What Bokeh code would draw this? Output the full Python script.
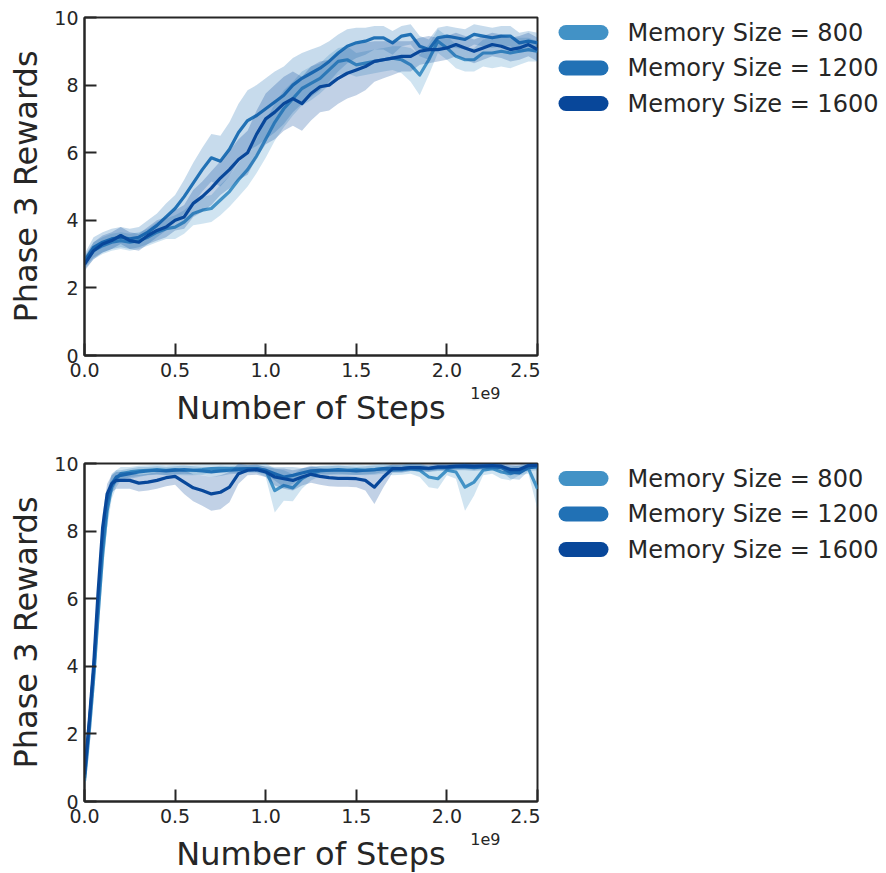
from bokeh.plotting import figure
from bokeh.models import Title, FixedTicker, PrintfTickFormatter, Range1d
from bokeh.core.properties import value
from bokeh.layouts import column, row
from bokeh.embed import file_html
from bokeh.resources import INLINE

series_names = ["Memory Size = 800", "Memory Size = 1200", "Memory Size = 1600"]
colors = ["#4292c6", "#2171b5", "#08479a"]
x_tick_values = [0.0, 0.5, 1.0, 1.5, 2.0, 2.5]
y_tick_values = [0, 2, 4, 6, 8, 10]
x_label = "Number of Steps"
y_label = "Phase 3 Rewards"
x_scale_note = "1e9"

# ---------- top panel (x in units of 1e9 steps) ----------
x_top = [0.00, 0.05, 0.10, 0.15, 0.20, 0.25, 0.30, 0.35, 0.40, 0.45,
         0.50, 0.55, 0.60, 0.65, 0.70, 0.75, 0.80, 0.85, 0.90, 0.95,
         1.00, 1.05, 1.10, 1.15, 1.20, 1.25, 1.30, 1.35, 1.40, 1.45,
         1.50, 1.55, 1.60, 1.65, 1.70, 1.75, 1.80, 1.85, 1.90, 1.95,
         2.00, 2.05, 2.10, 2.15, 2.20, 2.25, 2.30, 2.35, 2.40, 2.45,
         2.50]
m800_top = [2.75, 3.1, 3.25, 3.35, 3.4, 3.35, 3.4, 3.5, 3.65, 3.75,
            3.8, 3.95, 4.2, 4.3, 4.35, 4.6, 4.85, 5.2, 5.5, 5.9,
            6.4, 6.9, 7.3, 7.6, 7.9, 8.05, 8.2, 8.45, 8.7, 8.75,
            8.6, 8.65, 8.7, 8.75, 8.8, 8.75, 8.6, 8.3, 8.75, 9.3,
            9.1, 8.85, 8.75, 8.75, 8.95, 8.95, 9.0, 8.95, 9.0, 9.05,
            9.0]
m1200_top = [2.8, 3.2, 3.35, 3.45, 3.5, 3.45, 3.5, 3.65, 3.85, 4.1,
             4.35, 4.7, 5.1, 5.5, 5.85, 5.75, 6.1, 6.6, 6.95, 7.1,
             7.3, 7.5, 7.7, 8.0, 8.2, 8.35, 8.5, 8.7, 8.95, 9.15,
             9.25, 9.3, 9.4, 9.4, 9.25, 9.45, 9.5, 9.15, 9.05, 9.4,
             9.45, 9.4, 9.35, 9.5, 9.45, 9.4, 9.45, 9.45, 9.25, 9.3,
             9.25]
m1600_top = [2.7, 3.1, 3.3, 3.4, 3.55, 3.4, 3.35, 3.55, 3.7, 3.8,
             4.0, 4.1, 4.5, 4.7, 4.95, 5.25, 5.5, 5.8, 6.0, 6.55,
             7.0, 7.2, 7.45, 7.6, 7.45, 7.75, 7.95, 8.0, 8.2, 8.35,
             8.45, 8.55, 8.7, 8.75, 8.8, 8.85, 8.85, 9.0, 9.05, 9.05,
             9.1, 9.2, 9.1, 9.0, 9.1, 9.2, 9.15, 9.05, 9.1, 9.2,
             9.05]
s800_top = [0.2, 0.25, 0.25, 0.25, 0.25, 0.25, 0.25, 0.25, 0.3, 0.3,
            0.35, 0.35, 0.35, 0.4, 0.4, 0.45, 0.45, 0.5, 0.5, 0.5,
            0.55, 0.55, 0.55, 0.5, 0.5, 0.5, 0.45, 0.45, 0.4, 0.4,
            0.35, 0.35, 0.35, 0.35, 0.35, 0.4, 0.5, 0.6, 0.45, 0.35,
            0.35, 0.35, 0.35, 0.35, 0.4, 0.45, 0.45, 0.45, 0.4, 0.35,
            0.3]
s1200_top = [0.2, 0.3, 0.3, 0.3, 0.3, 0.3, 0.3, 0.35, 0.35, 0.4,
             0.4, 0.5, 0.6, 0.65, 0.7, 0.75, 0.8, 0.85, 0.9, 0.9,
             0.9, 0.9, 0.85, 0.8, 0.75, 0.7, 0.65, 0.6, 0.55, 0.5,
             0.45, 0.4, 0.35, 0.35, 0.35, 0.3, 0.3, 0.3, 0.3, 0.3,
             0.3, 0.3, 0.3, 0.3, 0.3, 0.3, 0.3, 0.3, 0.3, 0.3,
             0.3]
s1600_top = [0.2, 0.25, 0.25, 0.25, 0.25, 0.25, 0.25, 0.25, 0.3, 0.3,
             0.3, 0.35, 0.4, 0.45, 0.5, 0.5, 0.55, 0.6, 0.65, 0.7,
             0.75, 0.8, 0.8, 0.8, 0.8, 0.8, 0.75, 0.75, 0.75, 0.75,
             0.75, 0.7, 0.6, 0.55, 0.5, 0.45, 0.45, 0.4, 0.4, 0.35,
             0.35, 0.35, 0.35, 0.35, 0.35, 0.35, 0.35, 0.35, 0.35, 0.35,
             0.35]

# ---------- bottom panel ----------
x_bot = [0.0, 0.025, 0.05, 0.075, 0.10, 0.125, 0.15, 0.175, 0.20,
         0.25, 0.30, 0.35, 0.40, 0.45, 0.50,
         0.55, 0.60, 0.65, 0.70, 0.75, 0.80, 0.85, 0.90, 0.95, 1.00,
         1.05, 1.10, 1.15, 1.20, 1.25, 1.30, 1.35, 1.40, 1.45, 1.50,
         1.55, 1.60, 1.65, 1.70, 1.75, 1.80, 1.85, 1.90, 1.95, 2.00,
         2.05, 2.10, 2.15, 2.20, 2.25, 2.30, 2.35, 2.40, 2.45, 2.50]
m800_bot = [0.6, 2.0, 3.6, 5.5, 7.3, 8.6, 9.3, 9.55, 9.7,
            9.75, 9.78, 9.8, 9.82, 9.8, 9.82,
            9.8, 9.8, 9.82, 9.85, 9.85, 9.85, 9.85, 9.85, 9.85, 9.8,
            9.2, 9.35, 9.28, 9.55, 9.7, 9.78, 9.8, 9.8, 9.8, 9.82,
            9.8, 9.82, 9.85, 9.8, 9.82, 9.85, 9.8, 9.6, 9.55, 9.8,
            9.75, 9.3, 9.45, 9.8, 9.85, 9.75, 9.7, 9.8, 9.85, 9.25]
m1200_bot = [0.7, 2.2, 3.8, 5.8, 7.6, 8.8, 9.4, 9.6, 9.65,
             9.7, 9.75, 9.78, 9.8, 9.78, 9.8,
             9.82, 9.8, 9.78, 9.75, 9.78, 9.8, 9.82, 9.85, 9.85, 9.8,
             9.7, 9.6, 9.65, 9.72, 9.78, 9.8, 9.8, 9.82, 9.8, 9.78,
             9.8, 9.82, 9.85, 9.86, 9.85, 9.88, 9.86, 9.85, 9.88, 9.88,
             9.9, 9.9, 9.88, 9.9, 9.9, 9.88, 9.75, 9.72, 9.88, 9.9]
m1600_bot = [0.8, 2.3, 4.0, 6.2, 8.1, 9.1, 9.4, 9.5, 9.5,
             9.5, 9.42, 9.45, 9.5, 9.58, 9.62,
             9.45, 9.28, 9.2, 9.1, 9.15, 9.3, 9.7, 9.8, 9.82, 9.75,
             9.6, 9.55, 9.5, 9.6, 9.68, 9.62, 9.58, 9.56, 9.56, 9.55,
             9.5, 9.3, 9.6, 9.85, 9.85, 9.88, 9.88, 9.86, 9.9, 9.9,
             9.92, 9.93, 9.92, 9.93, 9.94, 9.92, 9.82, 9.82, 9.94, 9.95]
s800_bot = [0.4, 0.6, 0.6, 0.6, 0.6, 0.5, 0.35, 0.25, 0.2,
            0.15, 0.15, 0.15, 0.15, 0.15, 0.15,
            0.15, 0.15, 0.15, 0.12, 0.12, 0.12, 0.12, 0.12, 0.12, 0.2,
            0.65, 0.45, 0.4, 0.3, 0.2, 0.15, 0.15, 0.15, 0.15, 0.15,
            0.15, 0.15, 0.15, 0.15, 0.15, 0.15, 0.2, 0.3, 0.3, 0.15,
            0.2, 0.7, 0.4, 0.15, 0.15, 0.2, 0.2, 0.15, 0.15, 0.6]
s1200_bot = [0.3, 0.5, 0.5, 0.5, 0.5, 0.4, 0.3, 0.2, 0.15,
             0.15, 0.15, 0.12, 0.12, 0.12, 0.12,
             0.12, 0.12, 0.12, 0.15, 0.15, 0.12, 0.12, 0.1, 0.1, 0.12,
             0.2, 0.3, 0.25, 0.15, 0.12, 0.12, 0.12, 0.12, 0.12, 0.12,
             0.12, 0.12, 0.1, 0.1, 0.1, 0.1, 0.1, 0.1, 0.1, 0.1,
             0.1, 0.1, 0.1, 0.1, 0.1, 0.1, 0.2, 0.2, 0.1, 0.1]
s1600_bot = [0.3, 0.4, 0.4, 0.4, 0.4, 0.3, 0.25, 0.25, 0.25,
             0.25, 0.25, 0.25, 0.25, 0.25, 0.25,
             0.35, 0.4, 0.45, 0.5, 0.5, 0.45, 0.3, 0.15, 0.15, 0.15,
             0.25, 0.3, 0.3, 0.25, 0.25, 0.25, 0.25, 0.25, 0.25, 0.25,
             0.3, 0.5, 0.3, 0.12, 0.12, 0.1, 0.1, 0.1, 0.1, 0.1,
             0.1, 0.1, 0.1, 0.1, 0.1, 0.1, 0.15, 0.15, 0.1, 0.08]

TEXT = "#262626"
FONT = "DejaVu Sans"
FRAME_W = 453
FRAME_H = 338
PLOT_W = 540          # 84 left border + 453 frame + 3 right border
LEG_W = 886 - PLOT_W


def make_panel(xs, means, stds, border_top, border_bottom):
    p = figure(frame_width=FRAME_W, frame_height=FRAME_H,
               x_range=Range1d(0, 2.5), y_range=Range1d(0, 10),
               output_backend="svg", toolbar_location=None,
               min_border_left=84, min_border_right=PLOT_W - 84 - FRAME_W,
               min_border_top=border_top, min_border_bottom=border_bottom,
               background_fill_color="white", border_fill_color="white")
    p.xgrid.visible = False
    p.ygrid.visible = False
    p.outline_line_color = TEXT
    p.outline_line_width = 2
    p.outline_line_alpha = 1.0

    for m, s, c in zip(means, stds, colors):
        lo = [a - b for a, b in zip(m, s)]
        hi = [a + b for a, b in zip(m, s)]
        p.varea(x=xs, y1=lo, y2=hi, fill_color=c, fill_alpha=0.25)
        p.line(xs, m, line_color=c, line_width=3.2, line_join="round")

    for ax in (p.xaxis, p.yaxis):
        ax.axis_line_color = TEXT
        ax.axis_line_width = 2
        ax.major_tick_line_color = TEXT
        ax.major_tick_line_width = 2
        ax.major_tick_in = 12
        ax.major_tick_out = 0
        ax.minor_tick_line_color = None
        ax.major_label_text_font = FONT
        ax.major_label_text_font_size = "19px"
        ax.major_label_text_color = TEXT
        ax.axis_label_text_font = FONT
        ax.axis_label_text_font_size = "32px"
        ax.axis_label_text_font_style = "normal"
        ax.axis_label_text_color = TEXT

    p.xaxis.ticker = FixedTicker(ticks=x_tick_values)
    p.xaxis.formatter = PrintfTickFormatter(format="%.1f")
    p.yaxis.ticker = FixedTicker(ticks=y_tick_values)
    p.xaxis.major_label_standoff = 7
    p.yaxis.major_label_standoff = 6
    p.yaxis.axis_label = y_label
    p.yaxis.axis_label_standoff = 6

    note = Title(text=x_scale_note, align="right", offset=37, standoff=11,
                 text_font=FONT, text_font_size="16px",
                 text_font_style="normal", text_color=TEXT)
    p.add_layout(note, "below")
    xlab = Title(text=x_label, align="center", standoff=-36,
                 text_font=FONT, text_font_size="32px",
                 text_font_style="normal", text_color=TEXT)
    p.add_layout(xlab, "below")
    return p


def make_legend(border_top, border_bottom):
    # same frame height as the chart next to it; y counts pixels down from frame top
    lf = figure(width=LEG_W, frame_height=FRAME_H,
                x_range=Range1d(0, LEG_W), y_range=Range1d(FRAME_H, 0),
                output_backend="svg", toolbar_location=None,
                min_border_left=0, min_border_right=0,
                min_border_top=border_top, min_border_bottom=border_bottom,
                x_axis_location=None, y_axis_location=None,
                background_fill_color="white", border_fill_color="white")
    lf.xgrid.visible = False
    lf.ygrid.visible = False
    lf.outline_line_color = None
    rows_y = [15 + 35.5 * i for i in range(len(series_names))]
    lf.segment(x0=25.5, x1=60.5, y0=rows_y, y1=rows_y, line_color=colors,
               line_width=15, line_cap="round")
    lf.text(x=87, y=rows_y, text=series_names, text_font=value(FONT),
            text_font_size=value("24px"), text_color=TEXT,
            text_baseline="middle", text_align="left")
    return lf


p1 = make_panel(x_top, [m800_top, m1200_top, m1600_top],
                [s800_top, s1200_top, s1600_top], 17, 80)
p2 = make_panel(x_bot, [m800_bot, m1200_bot, m1600_bot],
                [s800_bot, s1200_bot, s1600_bot], 28, 72)

layout = column(row(p1, make_legend(17, 80), spacing=0),
                row(p2, make_legend(28, 72), spacing=0), spacing=0)
open("out.html", "w").write(file_html(layout, INLINE))
